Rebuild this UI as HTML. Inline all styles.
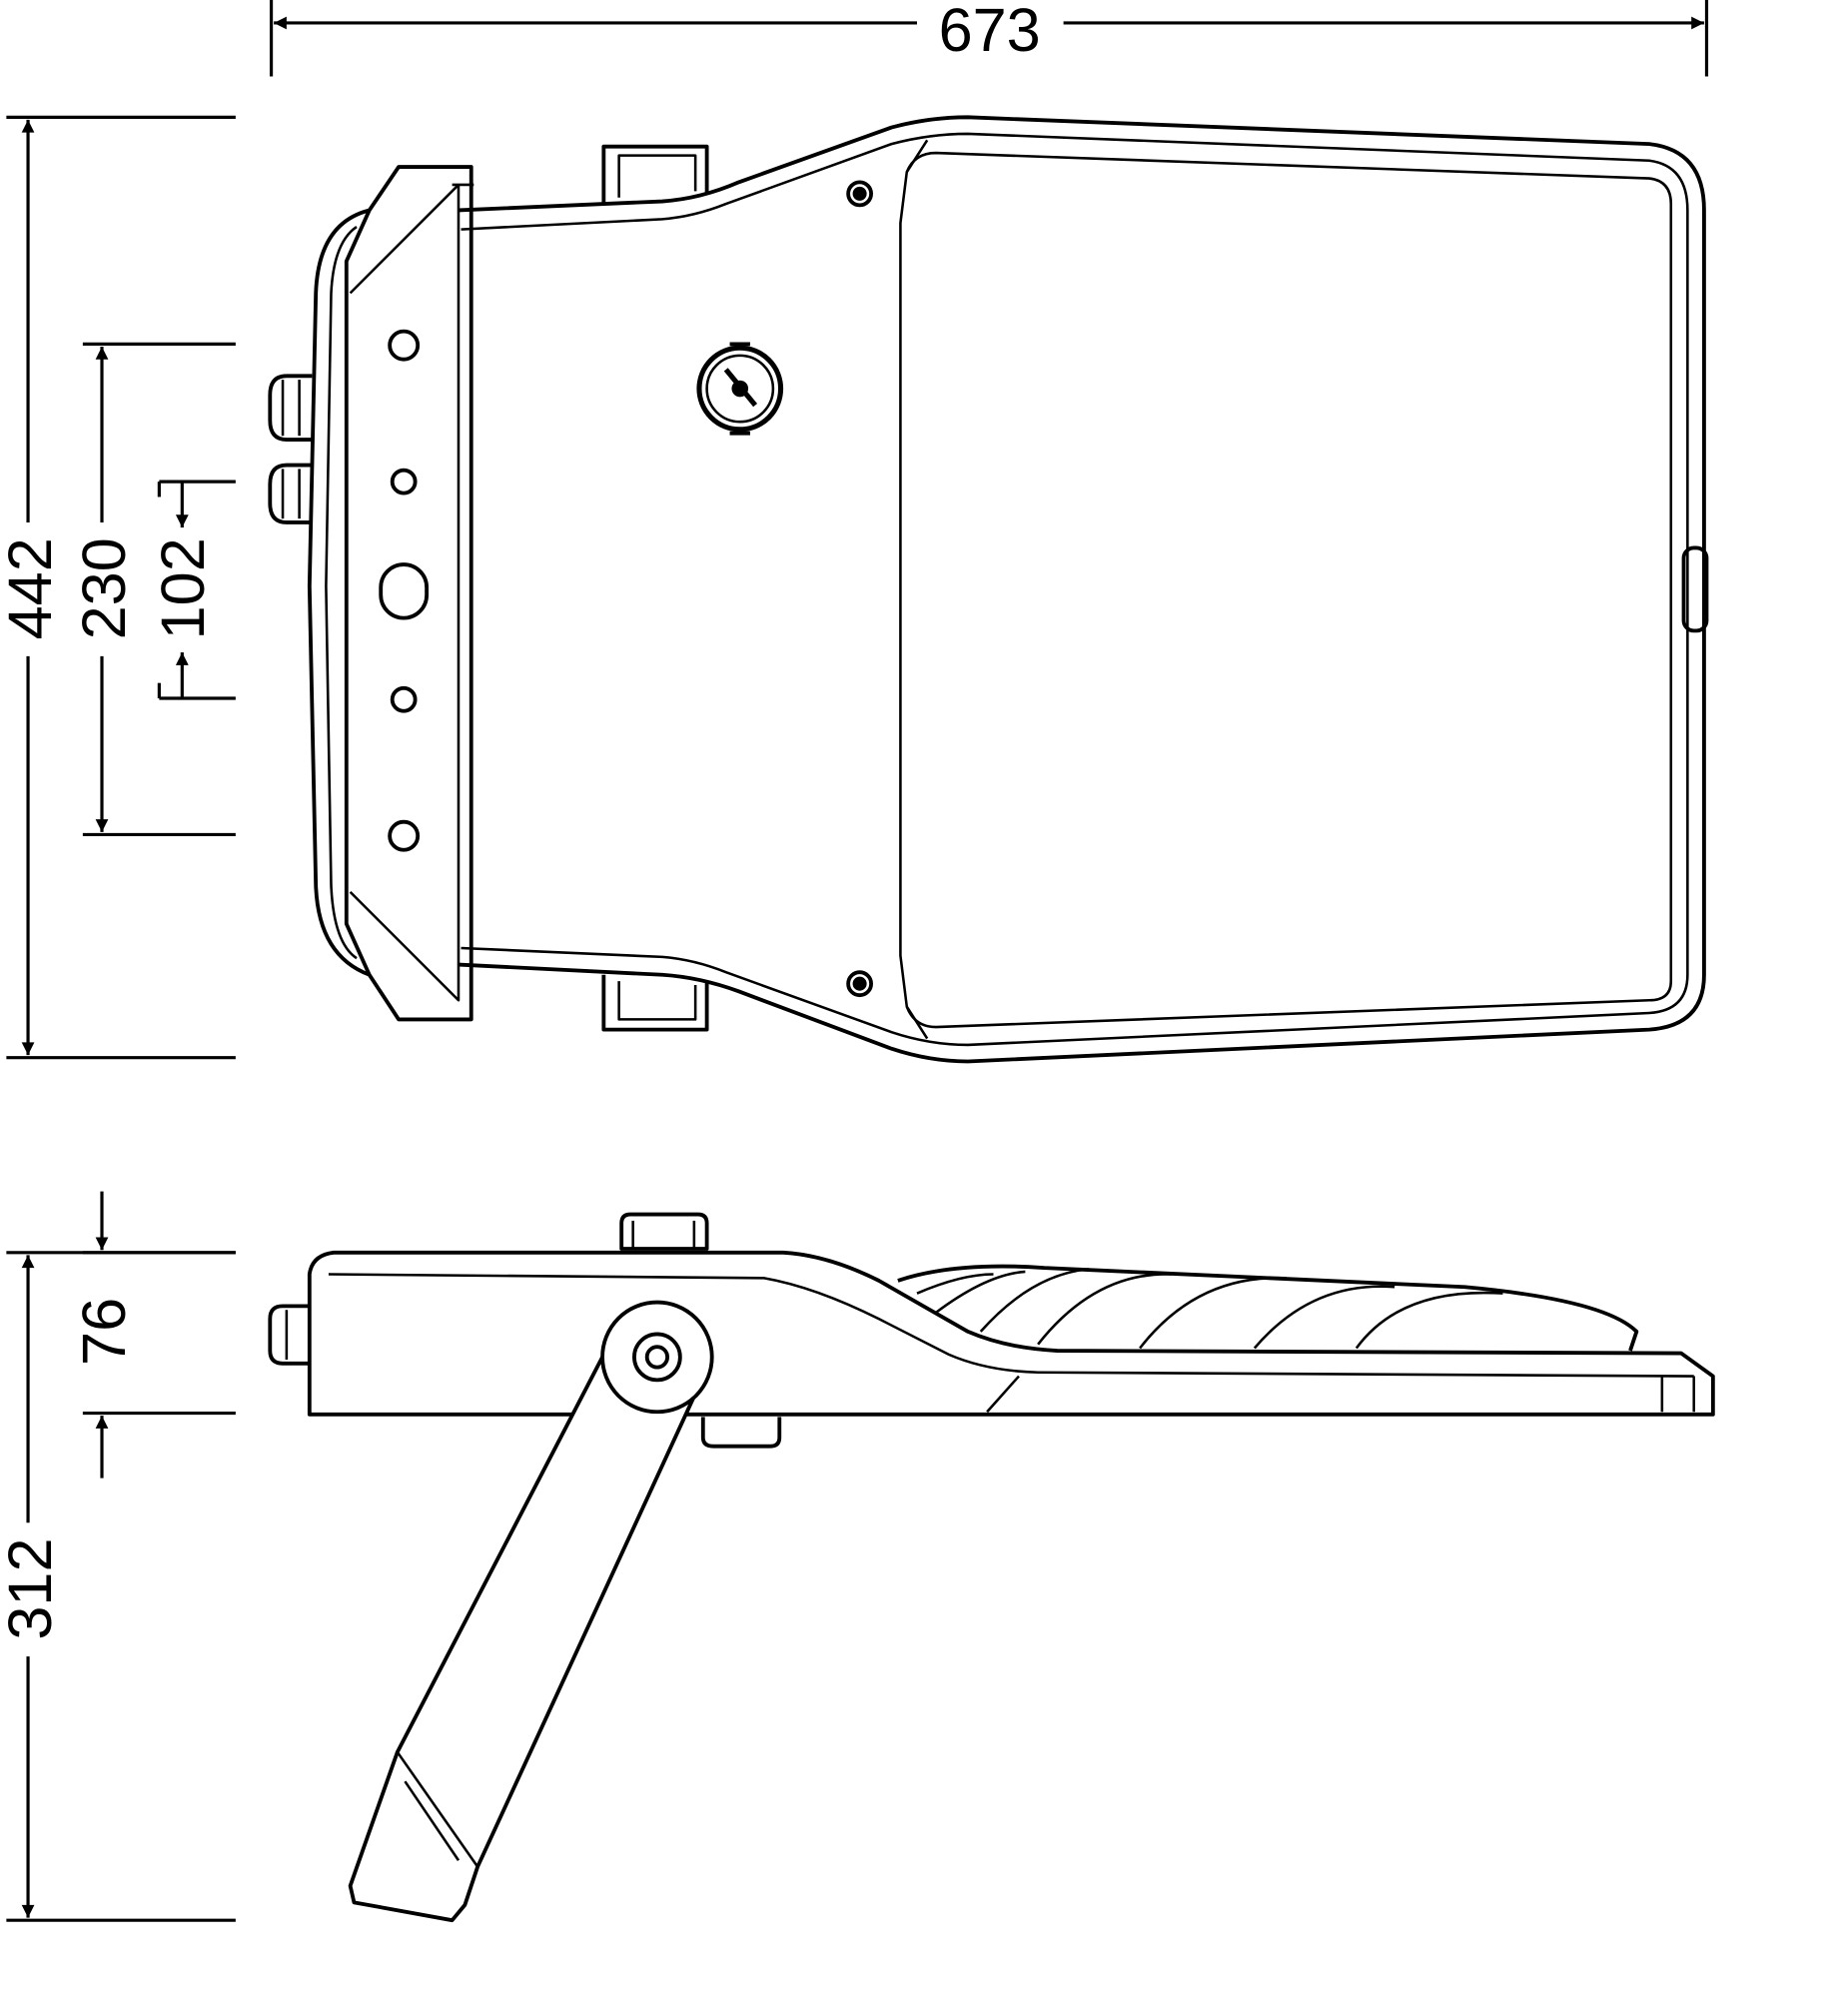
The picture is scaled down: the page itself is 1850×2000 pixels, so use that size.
<!DOCTYPE html>
<html><head><meta charset="utf-8"><style>
html,body{margin:0;padding:0;background:#fff;}
svg{display:block}
text{font-family:"Liberation Sans",sans-serif;fill:#000}
</style></head><body>
<svg width="1850" height="2000" viewBox="0 0 1451 1568" preserveAspectRatio="none" xmlns="http://www.w3.org/2000/svg">
<defs>
<marker id="a" viewBox="0 0 10 10" refX="10" refY="5" markerWidth="20" markerHeight="10" markerUnits="userSpaceOnUse" orient="auto"><path d="M0,0L10,5L0,10z" fill="#000"/></marker>
</defs>
<g stroke="#000" stroke-width="2.5" fill="none">
<line x1="213" y1="0" x2="213" y2="60"/><line x1="1340" y1="0" x2="1340" y2="60"/>
<line x1="720" y1="18" x2="215" y2="18" marker-end="url(#a)"/>
<line x1="835" y1="18" x2="1338" y2="18" marker-end="url(#a)"/>
<line x1="5" y1="92" x2="185" y2="92"/><line x1="5" y1="830" x2="185" y2="830"/>
<line x1="22" y1="410" x2="22" y2="94" marker-end="url(#a)"/>
<line x1="22" y1="515" x2="22" y2="828" marker-end="url(#a)"/>
<line x1="65" y1="270" x2="185" y2="270"/><line x1="65" y1="655" x2="185" y2="655"/>
<line x1="80" y1="410" x2="80" y2="272" marker-end="url(#a)"/>
<line x1="80" y1="515" x2="80" y2="653" marker-end="url(#a)"/>
<line x1="125" y1="378" x2="185" y2="378"/><line x1="125" y1="548" x2="185" y2="548"/>
<line x1="125" y1="378" x2="125" y2="390"/><line x1="125" y1="536" x2="125" y2="548"/>
<line x1="143" y1="378" x2="143" y2="414" marker-end="url(#a)"/>
<line x1="143" y1="548" x2="143" y2="512" marker-end="url(#a)"/>
<line x1="65" y1="983" x2="185" y2="983"/><line x1="65" y1="1109" x2="185" y2="1109"/>
<line x1="80" y1="935" x2="80" y2="981" marker-end="url(#a)"/>
<line x1="80" y1="1160" x2="80" y2="1111" marker-end="url(#a)"/>
<line x1="5" y1="983" x2="185" y2="983"/><line x1="5" y1="1507" x2="185" y2="1507"/>
<line x1="22" y1="1195" x2="22" y2="985" marker-end="url(#a)"/>
<line x1="22" y1="1300" x2="22" y2="1505" marker-end="url(#a)"/>
</g>
<g font-size="48">
<text x="777" y="40" text-anchor="middle">673</text>
<text transform="translate(40,462) rotate(-90)" text-anchor="middle">442</text>
<text transform="translate(98,462) rotate(-90)" text-anchor="middle">230</text>
<text transform="translate(160,462) rotate(-90)" text-anchor="middle">102</text>
<text transform="translate(98,1045) rotate(-90)" text-anchor="middle">76</text>
<text transform="translate(40,1247) rotate(-90)" text-anchor="middle">312</text>
</g>

<g stroke="#000" stroke-width="3" fill="none" stroke-linejoin="round">
<path d="M360,165 L520,158 Q550,156 580,143 L700,100 Q730,92 760,92 L1295,113 Q1338,118 1338,165 L1338,765 Q1338,805 1295,808 L760,833 Q730,833 700,823 L580,778 Q550,767 520,765 L360,757"/>
<path d="M362,180 L520,172 Q545,170 570,160 L700,113 Q730,105 760,105 L1295,126 Q1325,130 1325,165 L1325,765 Q1325,793 1295,795 L760,820 Q730,820 700,810 L570,763 Q545,753 520,751 L362,744" stroke-width="2"/>
<path d="M735,120 L1295,140 Q1312,142 1312,160 L1312,770 Q1312,785 1295,785 L735,806 Q718,806 712,790 L707,750 L707,175 L712,135 Q718,120 735,120 Z" stroke-width="2"/>
<line x1="728" y1="110" x2="712" y2="135" stroke-width="2"/><line x1="728" y1="815" x2="712" y2="790" stroke-width="2"/>
<path d="M313,131 L370,131 L370,800 L313,800 L290,765 L272,725 L272,205 L290,165 Z"/>
<path d="M355,145 L372,145 M275,230 L355,150 L360,145 L360,785 L275,700" stroke-width="2"/>
<path d="M290,165 Q250,175 248,230 L243,460 L248,695 Q250,750 290,765" />
<path d="M280,178 Q262,190 260,230 L256,460 L260,695 Q262,740 280,752" stroke-width="2"/>
<path d="M474,160 L474,115 L555,115 L555,152" />
<path d="M486,155 L486,122 L546,122 L546,150" stroke-width="2"/>
<path d="M474,765 L474,808 L555,808 L555,770" />
<path d="M486,770 L486,800 L546,800 L546,773" stroke-width="2"/>
<circle cx="317" cy="271" r="11"/><circle cx="317" cy="378" r="9"/>
<circle cx="317" cy="549" r="9"/><circle cx="317" cy="656" r="11"/>
<rect x="299" y="443" width="36" height="42" rx="18"/>
<circle cx="675" cy="152" r="9"/><circle cx="675" cy="152" r="4" fill="#000"/>
<circle cx="675" cy="772" r="9"/><circle cx="675" cy="772" r="4" fill="#000"/>
<circle cx="581" cy="305" r="32" stroke-width="4"/><circle cx="581" cy="305" r="26" stroke-width="2"/>
<line x1="570" y1="290" x2="593" y2="318" stroke-width="4"/><circle cx="581" cy="305" r="5" fill="#000"/>
<line x1="573" y1="270" x2="589" y2="270"/><line x1="573" y1="340" x2="589" y2="340"/>
<path d="M245,295 L225,295 Q212,295 212,310 L212,330 Q212,345 225,345 L245,345"/>
<line x1="222" y1="298" x2="222" y2="342" stroke-width="2"/><line x1="235" y1="298" x2="235" y2="342" stroke-width="2"/>
<path d="M245,365 L225,365 Q212,365 212,380 L212,395 Q212,410 225,410 L245,410"/>
<line x1="222" y1="368" x2="222" y2="407" stroke-width="2"/><line x1="235" y1="368" x2="235" y2="407" stroke-width="2"/>
<rect x="1322" y="430" width="18" height="65" rx="8"/>
</g>

<g stroke="#000" stroke-width="3" fill="none" stroke-linejoin="round">
<path d="M262,983 L615,983 Q650,985 690,1005 L760,1045 Q790,1058 830,1060 L1320,1062 L1345,1080 L1345,1110 L243,1110 L243,1000 Q245,985 262,983 Z"/>
<path d="M258,1000 L600,1003 Q640,1010 690,1035 L745,1063 Q775,1076 815,1077 L1330,1080" stroke-width="2"/>
<path d="M800,1080 L775,1108 M1305,1080 L1305,1108 M1330,1080 L1330,1108" stroke-width="2"/>
<path d="M705,1005 Q750,990 820,995 L1150,1010 Q1260,1020 1285,1045 L1280,1060" />
<path d="M720,1015 Q755,1000 780,1000 M735,1030 Q775,1000 805,998 M770,1045 Q810,1000 855,996 M815,1055 Q860,998 920,1000 M895,1058 Q940,1000 1010,1003 M985,1058 Q1030,1005 1095,1010 M1065,1058 Q1100,1010 1180,1015" stroke-width="2"/>
<path d="M488,980 L488,960 Q488,953 495,953 L548,953 Q555,953 555,960 L555,980 Z"/>
<line x1="497" y1="958" x2="497" y2="980" stroke-width="2"/><line x1="545" y1="958" x2="545" y2="980" stroke-width="2"/>
<path d="M243,1025 L222,1025 Q212,1025 212,1035 L212,1060 Q212,1070 222,1070 L243,1070"/>
<line x1="225" y1="1028" x2="225" y2="1067" stroke-width="2"/>
<path d="M552,1112 L552,1128 Q552,1135 560,1135 L605,1135 Q612,1135 612,1128 L612,1112"/>
<path d="M473,1065 L312,1375 L275,1480 L278,1493 L355,1507 L365,1495 L375,1465 L550,1085" fill="#fff"/>
<path d="M312,1375 L375,1465" stroke-width="2"/><path d="M318,1398 L360,1460" stroke-width="2"/>
<circle cx="516" cy="1065" r="43" fill="#fff"/>
<circle cx="516" cy="1065" r="18"/><circle cx="516" cy="1065" r="8"/>
</g>
</svg>
</body></html>
